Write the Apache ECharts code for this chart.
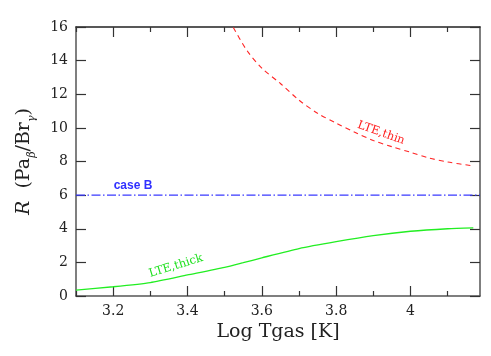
<!DOCTYPE html>
<html>
<head>
<meta charset="utf-8">
<script src="https://cdn.jsdelivr.net/npm/echarts@6/dist/echarts.min.js"></script>
<style>
html,body{margin:0;padding:0;background:#fff;}
#c{width:491px;height:356px;}
</style>
</head>
<body>
<div id="c"></div>
<script>
// Data
var xMajorTicks = [3.2, 3.4, 3.6, 3.8, 4.0];
var xMinorTicks = [3.1, 3.3, 3.5, 3.7, 3.9, 4.1];
var xRange = [3.1, 4.187];
var yRange = [0, 16];

var thinX = [3.50, 3.52, 3.56, 3.60, 3.65, 3.70, 3.75, 3.80, 3.85, 3.90, 3.95, 4.00, 4.05, 4.10, 4.169];
var thinY = [16.9, 16.1, 14.6, 13.55, 12.64, 11.65, 10.87, 10.28, 9.74, 9.25, 8.88, 8.55, 8.21, 7.97, 7.74];

var thickX = [3.1, 3.2, 3.3, 3.4, 3.5, 3.55, 3.6, 3.7, 3.8, 3.9, 4.0, 4.1, 4.169];
var thickY = [0.35, 0.55, 0.80, 1.25, 1.70, 1.98, 2.27, 2.82, 3.23, 3.59, 3.85, 4.0, 4.05];

var caseBX = [3.1, 4.187];
var caseBY = [6, 6];

function zip(a, b) { return a.map(function (v, i) { return [v, b[i]]; }); }

var SERIF = "'DejaVu Serif', serif";
var axisCol = '#555';

var chart = echarts.init(document.getElementById('c'), null, {renderer: 'canvas'});
var baseX = {
  type: 'value', min: xRange[0], max: xRange[1],
  splitLine: {show: false}
};
var baseY = {
  type: 'value', min: yRange[0], max: yRange[1], interval: 2,
  splitLine: {show: false}
};
function fmtX(v) { return String(+(+v).toFixed(1)); }

chart.setOption({
  backgroundColor: '#fff',
  animation: false,
  grid: {left: 76, right: 11, top: 27, bottom: 60, containLabel: false},
  xAxis: [
    Object.assign({}, baseX, {
      position: 'bottom',
      axisLine: {show: true, lineStyle: {color: axisCol, width: 1.5}},
      axisTick: {show: true, inside: true, length: 10, customValues: xMajorTicks, lineStyle: {color: '#333', width: 1.2}},
      axisLabel: {show: true, customValues: xMajorTicks, formatter: fmtX, fontFamily: SERIF, fontSize: 14, color: '#222', margin: 8},
      name: 'Log Tgas [K]', nameLocation: 'middle', nameGap: 23,
      nameTextStyle: {fontFamily: SERIF, fontSize: 19, color: '#222'}
    }),
    Object.assign({}, baseX, {
      position: 'bottom',
      axisLine: {show: false},
      axisTick: {show: true, inside: true, length: 5, customValues: xMinorTicks, lineStyle: {color: '#333', width: 1.2}},
      axisLabel: {show: false}
    }),
    Object.assign({}, baseX, {
      position: 'top',
      axisLine: {show: true, lineStyle: {color: '#222', width: 1.5}},
      axisTick: {show: true, inside: true, length: 10, customValues: xMajorTicks, lineStyle: {color: '#333', width: 1.2}},
      axisLabel: {show: false}
    }),
    Object.assign({}, baseX, {
      position: 'top',
      axisLine: {show: false},
      axisTick: {show: true, inside: true, length: 5, customValues: xMinorTicks, lineStyle: {color: '#333', width: 1.2}},
      axisLabel: {show: false}
    })
  ],
  yAxis: [
    Object.assign({}, baseY, {
      position: 'left',
      axisLine: {show: true, lineStyle: {color: axisCol, width: 1.5}},
      axisTick: {show: true, inside: true, length: 10, lineStyle: {color: '#333', width: 1.2}},
      axisLabel: {show: true, fontFamily: SERIF, fontSize: 14, color: '#222', margin: 8},
      name: '{i|R}  (Pa{s|β}/Br{s|γ})', nameLocation: 'middle', nameGap: 38, nameRotate: 90,
      nameTextStyle: {
        fontFamily: SERIF, fontSize: 19, color: '#222', lineHeight: 28,
        rich: {
          i: {fontFamily: SERIF, fontStyle: 'italic', fontSize: 19, color: '#222', lineHeight: 28},
          s: {fontFamily: SERIF, fontStyle: 'italic', fontSize: 11, color: '#222', verticalAlign: 'bottom', lineHeight: 14}
        }
      }
    }),
    Object.assign({}, baseY, {
      position: 'right',
      axisLine: {show: true, lineStyle: {color: axisCol, width: 1.5}},
      axisTick: {show: true, inside: true, length: 10, lineStyle: {color: '#333', width: 1.2}},
      axisLabel: {show: false}
    })
  ],
  series: [
    {
      type: 'line', name: 'case B', xAxisIndex: 0, yAxisIndex: 0,
      data: zip(caseBX, caseBY), showSymbol: false, symbol: 'none', clip: true,
      lineStyle: {color: '#3a3aff', width: 1.2, type: [9, 2.5, 1.5, 2.5]}
    },
    {
      type: 'line', name: 'LTE,thin', xAxisIndex: 0, yAxisIndex: 0,
      data: zip(thinX, thinY), showSymbol: false, symbol: 'none', clip: true, smooth: 0.3,
      lineStyle: {color: '#ff2424', width: 1.1, type: [5, 4]}
    },
    {
      type: 'line', name: 'LTE,thick', xAxisIndex: 0, yAxisIndex: 0,
      data: zip(thickX, thickY), showSymbol: false, symbol: 'none', clip: true, smooth: 0.2,
      lineStyle: {color: '#22ee22', width: 1.3}
    }
  ],
  graphic: [
    {type: 'text', x: 133, y: 186, style: {text: 'case B', fill: '#3030ff', font: "bold 12px 'Liberation Sans', sans-serif", align: 'center', verticalAlign: 'middle'}},
    {type: 'text', x: 381, y: 133, rotation: -0.34, style: {text: 'LTE,thin', fill: '#ff2020', font: "11.5px 'DejaVu Serif', serif", align: 'center', verticalAlign: 'middle'}},
    {type: 'text', x: 176, y: 266, rotation: 0.3, style: {text: 'LTE,thick', fill: '#1ee01e', font: "11.5px 'DejaVu Serif', serif", align: 'center', verticalAlign: 'middle'}}
  ]
});
</script>
</body>
</html>
